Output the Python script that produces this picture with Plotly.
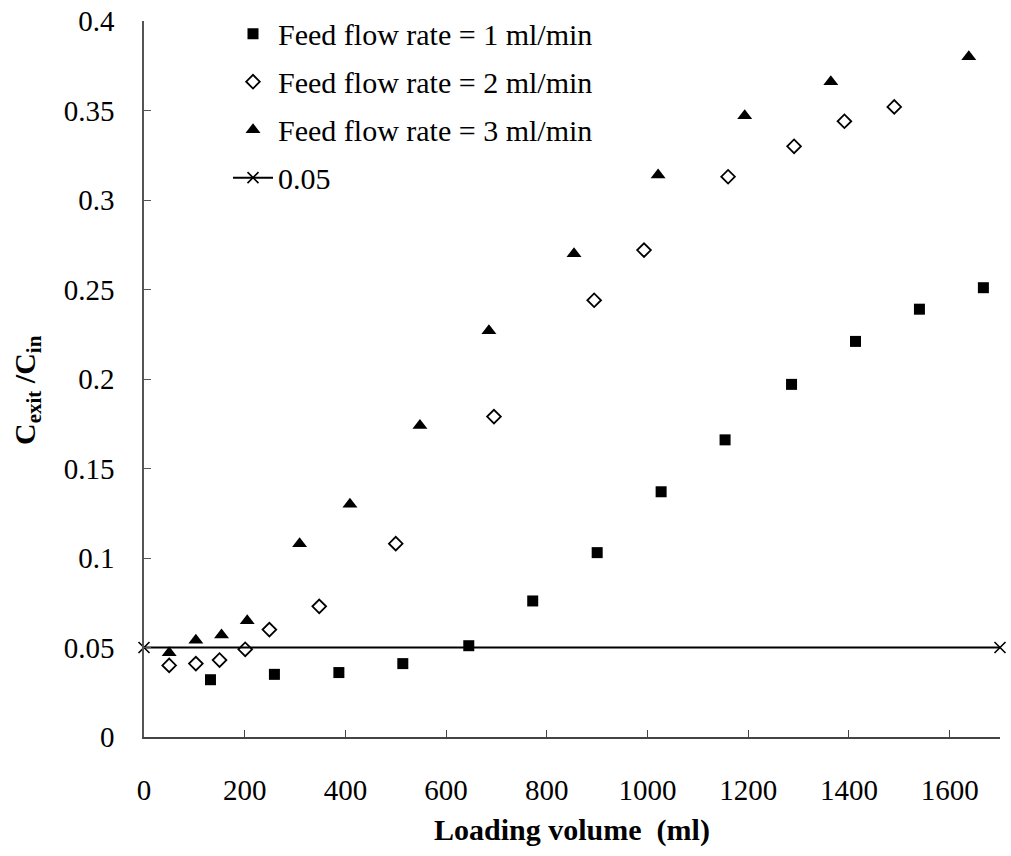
import plotly.graph_objects as go

# Feed flow rate = 1 ml/min
x1 = [132, 259, 387, 514, 645, 772, 900, 1027, 1154, 1286, 1413, 1540, 1667]
y1 = [0.032, 0.035, 0.036, 0.041, 0.051, 0.076, 0.103, 0.137, 0.166, 0.197, 0.221, 0.239, 0.251]

# Feed flow rate = 2 ml/min
x2 = [50, 103, 150, 201, 249, 348, 500, 695, 894, 993, 1160, 1291, 1391, 1490]
y2 = [0.040, 0.041, 0.043, 0.049, 0.060, 0.073, 0.108, 0.179, 0.244, 0.272, 0.313, 0.330, 0.344, 0.352]

# Feed flow rate = 3 ml/min
x3 = [50, 103, 154, 205, 309, 409, 548, 685, 854, 1021, 1193, 1364, 1638]
y3 = [0.047, 0.054, 0.057, 0.065, 0.108, 0.130, 0.174, 0.227, 0.270, 0.314, 0.347, 0.366, 0.380]

# Reference line 0.05
x4 = [0, 1700]
y4 = [0.05, 0.05]

xticks = [0, 200, 400, 600, 800, 1000, 1200, 1400, 1600]
yticks = [0, 0.05, 0.1, 0.15, 0.2, 0.25, 0.3, 0.35, 0.4]
ytick_text = ["0", "0.05", "0.1", "0.15", "0.2", "0.25", "0.3", "0.35", "0.4"]

FONT = "Liberation Serif, Times New Roman, serif"

fig = go.Figure()
fig.add_trace(go.Scatter(x=x1, y=y1, mode="markers", name="Feed flow rate = 1 ml/min",
                         legendgroup="a",
                         marker=dict(symbol="square", size=11, color="black")))
fig.add_trace(go.Scatter(x=x2, y=y2, mode="markers", name="Feed flow rate = 2 ml/min",
                         legendgroup="b",
                         marker=dict(symbol="diamond-open", size=10.5, color="black",
                                     line=dict(width=1.8, color="black"))))
fig.add_trace(go.Scatter(x=x3, y=y3, mode="markers", name="Feed flow rate = 3 ml/min",
                         legendgroup="c",
                         marker=dict(symbol="triangle-up", size=13, color="black")))
fig.add_trace(go.Scatter(x=x4, y=y4, mode="lines+markers", name="0.05",
                         legendgroup="d",
                         line=dict(color="black", width=2),
                         marker=dict(symbol="x-thin-open", size=11,
                                     line=dict(width=1.6, color="black"), color="black"),
                         cliponaxis=False))

fig.add_annotation(
    text="<b>C<sub>exit</sub> /C<sub>in</sub></b>",
    xref="paper", yref="paper",
    x=(27 - 144) / 856, y=(737 - 390) / 716,
    xanchor="center", yanchor="middle",
    textangle=-90, showarrow=False,
    font=dict(family=FONT, size=30, color="black"),
)

fig.update_layout(
    width=1011, height=856,
    margin=dict(l=144, r=11, t=21, b=119, autoexpand=False),
    paper_bgcolor="white", plot_bgcolor="white",
    font=dict(family=FONT, size=29, color="black"),
    showlegend=True,
    legend=dict(x=(228 - 144) / 856, y=1.0186, xanchor="left", yanchor="top",
                bgcolor="rgba(0,0,0,0)", font=dict(family=FONT, size=30, color="black"),
                traceorder="grouped", tracegroupgap=6, itemwidth=40),
    xaxis=dict(range=[0, 1700], tickvals=xticks, ticks="inside", ticklen=7,
               tickcolor="#444", showline=True, linecolor="#444", linewidth=1.5,
               showgrid=False, zeroline=False, ticklabelstandoff=26,
               tickfont=dict(family=FONT, size=29, color="black"),
               title=dict(text="<b>Loading volume  (ml)</b>", standoff=14,
                          font=dict(family=FONT, size=30, color="black"))),
    yaxis=dict(range=[0, 0.4], tickvals=yticks, ticktext=ytick_text, ticks="inside",
               ticklen=7, tickcolor="#555", showline=True, linecolor="#555", linewidth=1.5,
               showgrid=False, zeroline=False, ticklabelstandoff=22,
               tickfont=dict(family=FONT, size=29, color="black")),
)

fig.write_html("out.html")
